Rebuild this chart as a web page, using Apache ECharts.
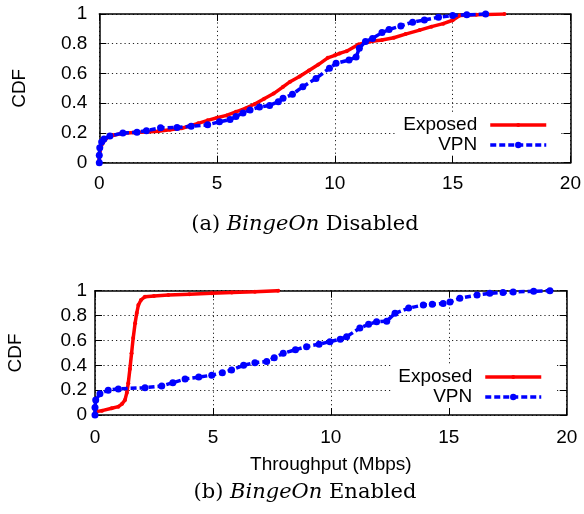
<!DOCTYPE html>
<html><head><meta charset="utf-8">
<script src="https://cdn.jsdelivr.net/npm/echarts@6/dist/echarts.min.js"></script>
<style>html,body{margin:0;padding:0;background:#fff}#c{width:584px;height:514px}</style>
</head><body><div id="c"></div><script>
// ---- data (Throughput in Mbps, CDF) ----
const seriesNames = ['Exposed', 'VPN'];
const xAxisTitle = 'Throughput (Mbps)';
const yAxisTitle = 'CDF';
const captionA = ['(a) ', 'BingeOn', ' Disabled'];
const captionB = ['(b) ', 'BingeOn', ' Enabled'];

// (a) BingeOn Disabled
const aExposedX = [0.0, 0.03, 0.1, 0.3, 0.6, 1.0, 1.5, 2.0, 2.5, 3.0, 3.5, 3.8, 4.2, 4.6, 5.0, 5.4, 5.8, 6.2, 6.6, 7.0, 7.4, 7.8, 8.1, 8.5, 8.9, 9.3, 9.7, 10.0, 10.2, 10.5, 11.0, 11.5, 12.0, 12.5, 13.0, 13.6, 14.1, 14.6, 15.0, 15.3, 16.0, 17.2];
const aExposedY = [0.02, 0.08, 0.12, 0.165, 0.185, 0.198, 0.203, 0.207, 0.212, 0.222, 0.232, 0.245, 0.265, 0.285, 0.302, 0.318, 0.342, 0.365, 0.395, 0.43, 0.465, 0.51, 0.545, 0.58, 0.62, 0.66, 0.705, 0.722, 0.735, 0.75, 0.795, 0.815, 0.825, 0.84, 0.865, 0.892, 0.915, 0.935, 0.958, 0.99, 0.995, 1.0];
const aVpnX = [0.0, 0.0, 0.02, 0.1, 0.2, 0.45, 1.0, 1.6, 2.0, 2.6, 3.3, 3.9, 4.6, 5.1, 5.55, 5.8, 6.1, 6.4, 6.8, 7.23, 7.6, 7.8, 8.2, 8.64, 9.2, 9.77, 10.05, 10.6, 10.9, 11.04, 11.3, 11.6, 12.0, 12.3, 12.8, 13.3, 13.8, 14.4, 15.0, 15.6, 16.4];
const aVpnY = [0.0, 0.05, 0.1, 0.14, 0.16, 0.18, 0.2, 0.205, 0.215, 0.235, 0.237, 0.245, 0.255, 0.275, 0.29, 0.31, 0.335, 0.355, 0.375, 0.385, 0.41, 0.433, 0.46, 0.511, 0.567, 0.635, 0.668, 0.69, 0.71, 0.77, 0.815, 0.836, 0.875, 0.895, 0.92, 0.945, 0.96, 0.978, 0.99, 0.995, 1.0];

// (b) BingeOn Enabled
const bExposedX = [0.0, 0.02, 0.3, 0.71, 0.99, 1.15, 1.27, 1.35, 1.41, 1.48, 1.55, 1.62, 1.70, 1.77, 1.84, 1.95, 2.12, 2.5, 3.11, 4.0, 4.95, 5.8, 6.78, 7.77];
const bExposedY = [0.0, 0.027, 0.035, 0.054, 0.067, 0.09, 0.12, 0.18, 0.255, 0.37, 0.496, 0.62, 0.738, 0.82, 0.885, 0.925, 0.952, 0.958, 0.965, 0.972, 0.979, 0.985, 0.992, 1.0];
const bVpnX = [0.0, 0.0, 0.03, 0.21, 0.56, 0.99, 2.12, 2.83, 3.3, 3.82, 4.4, 4.95, 5.4, 5.79, 6.3, 6.78, 7.28, 7.6, 7.98, 8.5, 8.97, 9.5, 9.96, 10.4, 10.67, 11.23, 11.6, 11.94, 12.37, 12.72, 13.3, 13.92, 14.3, 14.76, 15.05, 15.47, 16.2, 16.74, 17.3, 17.73, 18.6, 19.29];
const bVpnY = [0.0, 0.06, 0.12, 0.17, 0.2, 0.21, 0.22, 0.233, 0.26, 0.29, 0.305, 0.32, 0.34, 0.362, 0.4, 0.42, 0.43, 0.46, 0.496, 0.525, 0.55, 0.57, 0.59, 0.61, 0.63, 0.70, 0.73, 0.75, 0.755, 0.818, 0.86, 0.885, 0.89, 0.898, 0.91, 0.939, 0.965, 0.979, 0.985, 0.99, 0.995, 1.0];

const xMin = 0, xMax = 20, xStep = 5;
const yMin = 0, yMax = 1, yStep = 0.2;

// ---- chart ----
const pair = (xs, ys) => xs.map((x, i) => [x, ys[i]]);
const FONT = "'Liberation Sans', Arial, Helvetica, sans-serif";
const SERIF = "'DejaVu Serif', 'Liberation Serif', serif";

function xAx(gi, pos, main, margin) {
  return {
    type: 'value', gridIndex: gi, position: pos, min: xMin, max: xMax, interval: xStep,
    z: main ? 0 : 3,
    axisLine: { show: true, onZero: false, lineStyle: { color: '#000', width: 1.5 } },
    axisTick: { show: true, inside: true, length: 7, lineStyle: { color: '#000', width: 1 } },
    axisLabel: { show: main, margin: margin, color: '#000', fontSize: 19, fontFamily: FONT },
    splitLine: { show: main, lineStyle: { color: '#222', type: [1.2, 3], width: 1 } }
  };
}
function yAx(gi, pos, main, margin) {
  return {
    type: 'value', gridIndex: gi, position: pos, min: yMin, max: yMax, interval: yStep,
    z: main ? 0 : 3,
    axisLine: { show: true, onZero: false, lineStyle: { color: '#000', width: 1.5 } },
    axisTick: { show: true, inside: true, length: 7, lineStyle: { color: '#000', width: 1 } },
    axisLabel: { show: main, margin: margin, color: '#000', fontSize: 19, fontFamily: FONT },
    splitLine: { show: main, lineStyle: { color: '#222', type: [1.2, 3], width: 1 } }
  };
}

const redStyle = {
  type: 'line', symbol: 'circle', symbolSize: 4, showSymbol: true,
  lineStyle: { color: '#ff0000', width: 3.5, type: 'solid' },
  itemStyle: { color: '#ff0000' }, z: 3, animation: false
};
const blueStyle = {
  type: 'line', symbol: 'circle', symbolSize: 7, showSymbol: true,
  lineStyle: { color: '#0000ff', width: 3.5, type: [6, 3] },
  itemStyle: { color: '#0000ff' }, z: 4, animation: false
};

function legend(name, centerY, right, symH) {
  return {
    data: [name], orient: 'vertical', top: centerY - 10, right: right, align: 'right', padding: 0,
    itemWidth: 56, itemHeight: symH, selectedMode: false,
    lineStyle: { width: 3.5 },
    textStyle: { fontSize: 19, lineHeight: 20, fontFamily: FONT, color: '#000', padding: [0, 8, 0, 0] }
  };
}

const chart = echarts.init(document.getElementById('c'), null, { renderer: 'canvas' });
chart.setOption({
  animation: false,
  backgroundColor: '#fff',
  grid: [
    { left: 99.3, top: 14, width: 472.4, height: 148.7 },
    { left: 95, top: 290.7, width: 471.7, height: 124.3 }
  ],
  xAxis: [
    xAx(0, 'bottom', true, 12), xAx(0, 'top', false, 0),
    Object.assign(xAx(1, 'bottom', true, 13), {
      name: xAxisTitle, nameLocation: 'middle', nameGap: 40,
      nameTextStyle: { fontSize: 19, fontFamily: FONT, color: '#000' }
    }),
    xAx(1, 'top', false, 0)
  ],
  yAxis: [
    yAx(0, 'left', true, 12), yAx(0, 'right', false, 0),
    yAx(1, 'left', true, 8), yAx(1, 'right', false, 0)
  ],
  legend: [
    legend(seriesNames[0], 125, 36, 5), legend(seriesNames[1], 145, 36, 8),
    legend(seriesNames[0], 377, 41, 5), legend(seriesNames[1], 397, 41, 8)
  ],
  graphic: [
    { type: 'rect', z: 1, shape: { x: 397, y: 113, width: 162, height: 42 }, style: { fill: '#fff' } },
    { type: 'rect', z: 1, shape: { x: 393, y: 365, width: 162, height: 43 }, style: { fill: '#fff' } },
    { type: 'text', z: 5, x: 19.5, y: 88.3, rotation: Math.PI / 2,
      style: { text: yAxisTitle, fontSize: 19, fontFamily: FONT, fill: '#000', align: 'center', verticalAlign: 'middle' } },
    { type: 'text', z: 5, x: 16, y: 352.9, rotation: Math.PI / 2,
      style: { text: yAxisTitle, fontSize: 19, fontFamily: FONT, fill: '#000', align: 'center', verticalAlign: 'middle' } },
    { type: 'text', z: 5, x: 305, y: 225,
      style: { text: '{r|' + captionA[0] + '}{i|' + captionA[1] + '}{r|' + captionA[2] + '}', align: 'center', verticalAlign: 'middle',
        rich: { r: { fontSize: 21, fontFamily: SERIF, fill: '#000' }, i: { fontSize: 21, fontFamily: SERIF, fontStyle: 'italic', fill: '#000' } } } },
    { type: 'text', z: 5, x: 305, y: 493,
      style: { text: '{r|' + captionB[0] + '}{i|' + captionB[1] + '}{r|' + captionB[2] + '}', align: 'center', verticalAlign: 'middle',
        rich: { r: { fontSize: 21, fontFamily: SERIF, fill: '#000' }, i: { fontSize: 21, fontFamily: SERIF, fontStyle: 'italic', fill: '#000' } } } }
  ],
  series: [
    Object.assign({ name: seriesNames[0], xAxisIndex: 0, yAxisIndex: 0, data: pair(aExposedX, aExposedY) }, redStyle),
    Object.assign({ name: seriesNames[1], xAxisIndex: 0, yAxisIndex: 0, data: pair(aVpnX, aVpnY) }, blueStyle),
    Object.assign({ name: seriesNames[0], xAxisIndex: 2, yAxisIndex: 2, data: pair(bExposedX, bExposedY) }, redStyle),
    Object.assign({ name: seriesNames[1], xAxisIndex: 2, yAxisIndex: 2, data: pair(bVpnX, bVpnY) }, blueStyle)
  ]
});
</script></body></html>
